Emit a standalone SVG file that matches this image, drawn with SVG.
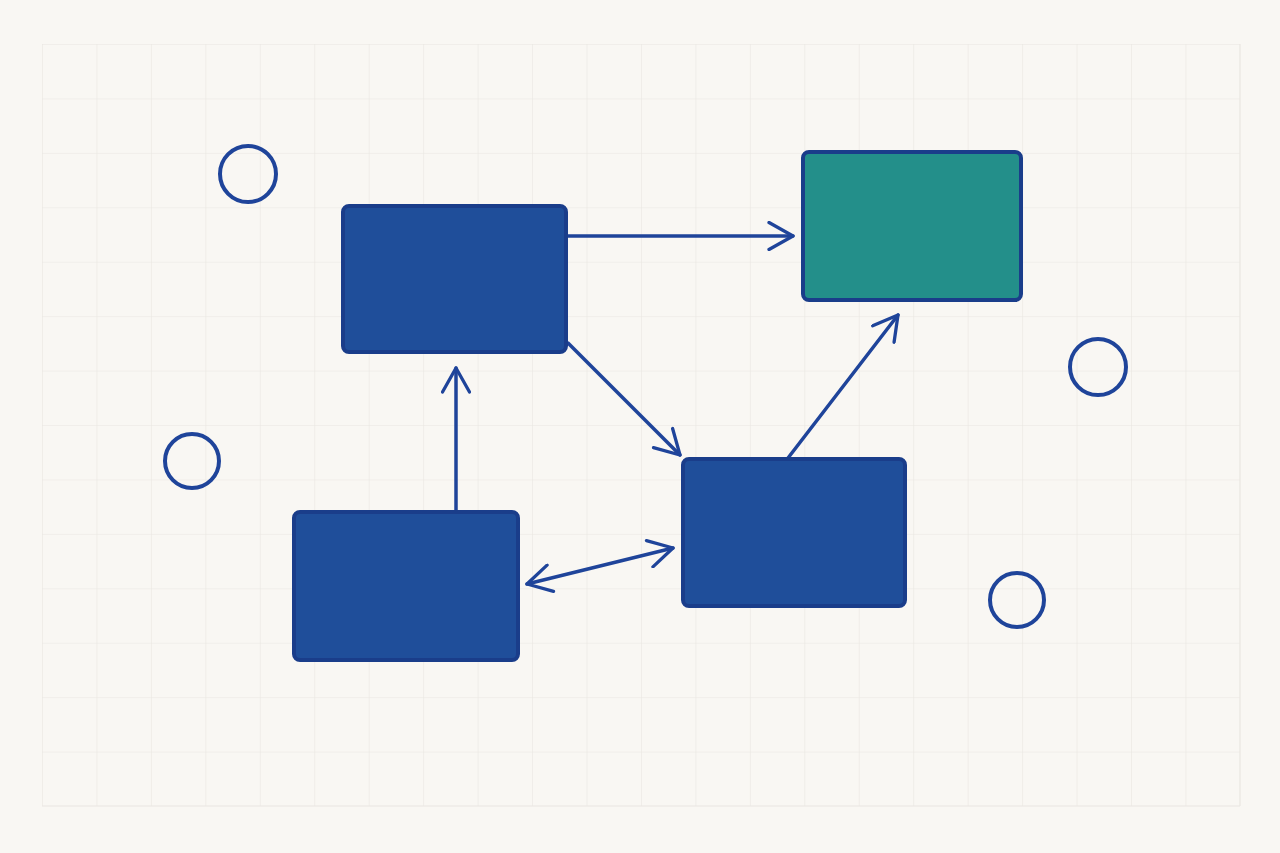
<svg xmlns="http://www.w3.org/2000/svg" width="1280" height="853" viewBox="0 0 1280 853">
<defs>
<pattern id="grid" x="42" y="44" width="54.45" height="54.43" patternUnits="userSpaceOnUse">
<path d="M0 0H54.45M0 0V54.43" fill="none" stroke="#e9e6e1" stroke-width="1.2"/>
</pattern>
<marker id="ah" viewBox="0 0 20 20" refX="18" refY="10" markerWidth="30" markerHeight="30" markerUnits="userSpaceOnUse" orient="auto-start-reverse">
<path d="M2 1L18 10L2 19" fill="none" stroke="#1f449a" stroke-width="2.2" stroke-linecap="round" stroke-linejoin="round"/>
</marker>
<style>
.n{fill:#1f4e9a;stroke:#1a3d8a;stroke-width:4}
.t{fill:#238f8a;stroke:#1a3d8a;stroke-width:4}
.c{fill:none;stroke:#1f449a;stroke-width:4}
.e{fill:none;stroke:#1f449a;stroke-width:3.5;stroke-linecap:round}
</style>
</defs>
<rect width="1280" height="853" fill="#f9f7f3"/>
<rect x="42" y="44" width="1198" height="762" fill="url(#grid)"/>
<path d="M1240 44V806M42 806H1240" stroke="#e9e6e1" stroke-width="1.2"/>
<g id="connectors">
<line class="e" x1="566" y1="236" x2="793" y2="236" marker-end="url(#ah)"/>
<line class="e" x1="568" y1="343" x2="680" y2="455" marker-end="url(#ah)"/>
<line class="e" x1="456" y1="510" x2="456" y2="368" marker-end="url(#ah)"/>
<line class="e" x1="788" y1="458" x2="898" y2="315" marker-end="url(#ah)"/>
<line class="e" x1="527" y1="584" x2="673" y2="548" marker-start="url(#ah)" marker-end="url(#ah)"/>
</g>
<g id="nodeA"><rect class="n" x="343" y="206" width="223" height="146" rx="6"/></g>
<g id="nodeB"><rect class="t" x="803" y="152" width="218" height="148" rx="6"/></g>
<g id="nodeC"><rect class="n" x="683" y="459" width="222" height="147" rx="6"/></g>
<g id="nodeD"><rect class="n" x="294" y="512" width="224" height="148" rx="6"/></g>
<g id="circle1"><circle class="c" cx="248" cy="174" r="28"/></g>
<g id="circle2"><circle class="c" cx="192" cy="461" r="27"/></g>
<g id="circle3"><circle class="c" cx="1098" cy="367" r="28"/></g>
<g id="circle4"><circle class="c" cx="1017" cy="600" r="27"/></g>
</svg>
